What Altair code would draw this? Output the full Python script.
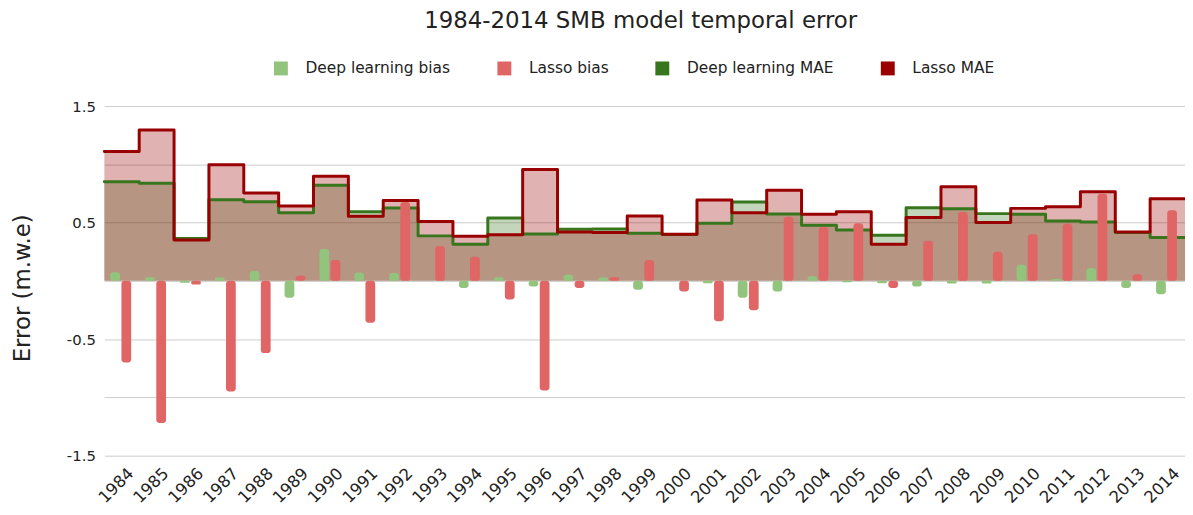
import altair as alt
import pandas as pd

years = list(range(1984, 2015))

dl_bias = [0.074, 0.031, -0.017, 0.028, 0.085, -0.145, 0.273, 0.071, 0.068, 0.0,
           -0.062, 0.03, -0.048, 0.055, 0.028, -0.077, 0.0, -0.02, -0.145, -0.091,
           0.04, -0.011, -0.02, -0.048, -0.023, -0.023, 0.139, 0.017, 0.111, -0.062,
           -0.114]
lasso_bias = [-0.70, -1.22, -0.031, -0.949, -0.62, 0.043, 0.179, -0.36, 0.676, 0.30,
              0.207, -0.159, -0.94, -0.062, 0.031, 0.179, -0.091, -0.347, -0.253, 0.551,
              0.463, 0.494, -0.062, 0.344, 0.591, 0.25, 0.40, 0.491, 0.747, 0.057,
              0.605]
dl_mae = [0.85, 0.838, 0.364, 0.696, 0.679, 0.585, 0.821, 0.594, 0.625, 0.386,
          0.315, 0.54, 0.403, 0.443, 0.446, 0.409, 0.397, 0.494, 0.676, 0.574,
          0.477, 0.437, 0.392, 0.628, 0.619, 0.577, 0.571, 0.514, 0.506, 0.415,
          0.372]
lasso_mae = [1.11, 1.295, 0.35, 0.997, 0.753, 0.642, 0.898, 0.554, 0.69, 0.509,
             0.383, 0.395, 0.955, 0.42, 0.415, 0.557, 0.40, 0.693, 0.585, 0.778,
             0.571, 0.594, 0.315, 0.543, 0.807, 0.50, 0.622, 0.636, 0.764, 0.42,
             0.705]

series_names = ["Deep learning bias", "Lasso bias", "Deep learning MAE", "Lasso MAE"]
series_colors = ["#93c47d", "#e06666", "#38761d", "#990000"]
y_ticks = [-1.5, -1.0, -0.5, 0.0, 0.5, 1.0, 1.5]

n = len(years)
bias_df = pd.DataFrame({
    "year": years + years,
    "series": [series_names[0]] * n + [series_names[1]] * n,
    "slot": [0] * n + [1] * n,
    "value": dl_bias + lasso_bias,
})

# step series: add closing point so the last step spans its whole year
end_year = years[-1] + 1
mae_df = pd.DataFrame({
    "year": years + [end_year],
    "dl": dl_mae + [dl_mae[-1]],
    "lasso": lasso_mae + [lasso_mae[-1]],
})

x_scale = alt.Scale(domain=[years[0], end_year], nice=False, zero=False)
y_scale = alt.Scale(domain=[-1.5, 1.5], nice=False)

x_axis = alt.Axis(
    values=[y + 0.5 for y in years],
    labelExpr="'' + floor(datum.value)",
    labelAngle=-45, labelAlign="right", labelBaseline="middle",
    labelOffset=9, labelPadding=15, labelFontSize=16.5, labelColor="#222222",
    labelOverlap=False, labelBound=False, labelFlush=False,
    domain=False, ticks=False, tickSize=0, grid=False, title=None,
)
y_axis = alt.Axis(
    values=y_ticks,
    format=".1f",
    labelExpr="abs(datum.value * 2) % 2 == 1 ? replace(datum.label, '\u2212', '-') : ''",
    labelFontSize=15, labelColor="#222222", labelPadding=9,
    domain=False, ticks=False, tickSize=0,
    grid=True, gridColor="#cccccc", gridWidth=1,
    title="Error (m.w.e)", titleFontSize=23, titleFontWeight="normal",
    titleColor="#222222", titleX=-82, titleY=183, titleAngle=-90,
    titleAlign="center", titleBaseline="middle",
)

base_mae = alt.Chart(mae_df)

area_dl = base_mae.mark_area(interpolate="step-after", color="#38761d", opacity=0.3).encode(
    x=alt.X("year:Q", scale=x_scale, axis=x_axis),
    y=alt.Y("dl:Q", scale=y_scale, axis=y_axis),
    y2=alt.datum(0),
)
area_lasso = base_mae.mark_area(interpolate="step-after", color="#990000", opacity=0.3).encode(
    x=alt.X("year:Q", scale=x_scale, axis=x_axis),
    y=alt.Y("lasso:Q", scale=y_scale, axis=y_axis),
    y2=alt.datum(0),
)
line_dl = base_mae.mark_line(interpolate="step-after", color="#38761d", strokeWidth=3,
                             strokeJoin="round", strokeCap="round").encode(
    x=alt.X("year:Q", scale=x_scale, axis=x_axis),
    y=alt.Y("dl:Q", scale=y_scale, axis=y_axis),
)
line_lasso = base_mae.mark_line(interpolate="step-after", color="#990000", strokeWidth=3,
                                strokeJoin="round", strokeCap="round").encode(
    x=alt.X("year:Q", scale=x_scale, axis=x_axis),
    y=alt.Y("lasso:Q", scale=y_scale, axis=y_axis),
)

bars = alt.Chart(bias_df).transform_calculate(
    x0="datum.year + 0.17 + datum.slot * 0.32",
    x1="datum.year + 0.45 + datum.slot * 0.32",
).mark_bar(cornerRadius=3).encode(
    x=alt.X("x0:Q", scale=x_scale, axis=x_axis),
    x2="x1:Q",
    y=alt.Y("value:Q", scale=y_scale, axis=y_axis),
    y2=alt.datum(0),
    color=alt.Color(
        "series:N",
        scale=alt.Scale(domain=series_names, range=series_colors),
        legend=alt.Legend(
            title=None, orient="none", legendX=170, legendY=-46,
            direction="horizontal", columns=4, columnPadding=46,
            symbolType="square", symbolSize=196, symbolStrokeWidth=0,
            symbolOpacity=1, labelFontSize=15.5, labelColor="#222222",
            labelOffset=17, padding=0, labelLimit=300,
        ),
    ),
)

chart = alt.layer(area_dl, area_lasso, line_dl, line_lasso, bars).properties(
    width=1088,
    height=352,
    padding={"left": 97, "top": 97, "right": 0, "bottom": 58},
    autosize=alt.AutoSizeParams(type="none"),
    title=alt.TitleParams(
        text="1984-2014 SMB model temporal error",
        fontSize=23, fontWeight="normal", color="#222222",
        anchor="middle", offset=28, dx=-4,
    ),
).configure(
    font="DejaVu Sans",
).configure_view(stroke=None)

chart.save("out.html", embed_options={"renderer": "svg", "actions": False})
